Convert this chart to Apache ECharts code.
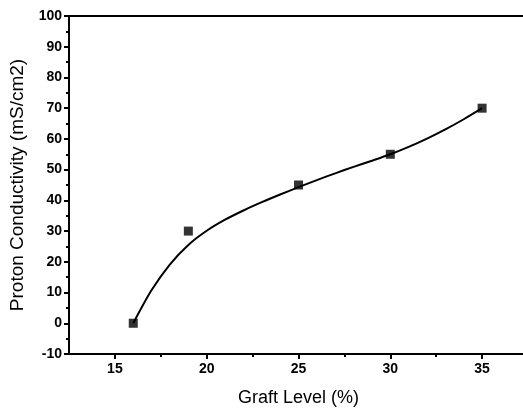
<!DOCTYPE html>
<html>
<head>
<meta charset="utf-8">
<script src="https://cdn.jsdelivr.net/npm/echarts@6/dist/echarts.min.js"></script>
<style>
html,body{margin:0;padding:0;background:#fff;}
#chart{width:523px;height:408px;}
</style>
</head>
<body>
<div id="chart"></div>
<script>
// Measured data points
const graftLevel = [16, 19, 25, 30, 35];
const conductivity = [0, 30, 45, 55, 70];
// Fitted curve
const curveX = [16, 17, 18, 19, 20, 21, 22, 23, 24, 25, 26, 27, 28, 29, 30, 31, 32, 33, 34, 35];
const curveY = [0, 10.8, 19.2, 25.5, 30.1, 33.7, 36.7, 39.4, 41.9, 44.3, 46.6, 48.8, 50.9, 52.9, 55.0, 57.4, 60.1, 63.1, 66.4, 70.0];
// Tick values
const xMajorTicks = [15, 20, 25, 30, 35];
const xMinorTicks = [17.5, 22.5, 27.5, 32.5];

const chart = echarts.init(document.getElementById('chart'), null, {renderer: 'canvas'});
const font = 'Arial, "Liberation Sans", sans-serif';
const lineStyle = {color: '#000', width: 2};
chart.setOption({
  animation: false,
  backgroundColor: '#fff',
  grid: {left: 69, top: 16, bottom: 54, right: -5, containLabel: false, outerBoundsMode: 'none'},
  xAxis: [
    {
      type: 'value', position: 'bottom', min: 12.5, max: 37.5,
      name: 'Graft Level (%)', nameLocation: 'middle', nameGap: 35,
      nameTextStyle: {fontFamily: font, fontSize: 18, color: '#000'},
      axisLine: {show: true, onZero: false, lineStyle: lineStyle},
      axisTick: {show: true, length: 5, customValues: xMajorTicks, lineStyle: lineStyle},
      axisLabel: {show: true, customValues: xMajorTicks, fontFamily: font, fontSize: 14, fontWeight: 'bold', color: '#000', margin: 8},
      splitLine: {show: false}
    },
    {
      type: 'value', position: 'bottom', min: 12.5, max: 37.5,
      axisLine: {show: false, onZero: false},
      axisTick: {show: true, length: 3, customValues: xMinorTicks, lineStyle: lineStyle},
      axisLabel: {show: false},
      splitLine: {show: false}
    },
    {
      type: 'value', position: 'top', min: 12.5, max: 37.5,
      axisLine: {show: true, onZero: false, lineStyle: lineStyle},
      axisTick: {show: false},
      axisLabel: {show: false},
      splitLine: {show: false}
    }
  ],
  yAxis: {
    type: 'value', min: -10, max: 100, interval: 10,
    name: 'Proton Conductivity (mS/cm2)', nameLocation: 'middle', nameGap: 41,
    nameTextStyle: {fontFamily: font, fontSize: 19, color: '#000'},
    axisLine: {show: true, onZero: false, lineStyle: lineStyle},
    axisTick: {show: true, length: 5, lineStyle: lineStyle},
    minorTick: {show: true, splitNumber: 2, length: 3, lineStyle: {color: '#000', width: 2}},
    axisLabel: {fontFamily: font, fontSize: 14, fontWeight: 'bold', color: '#000', margin: 7},
    splitLine: {show: false}
  },
  series: [
    {
      type: 'line', xAxisIndex: 0, smooth: 0.3, showSymbol: false, symbol: 'none',
      data: curveX.map((x, i) => [x, curveY[i]]),
      lineStyle: {color: '#000', width: 2}, z: 2
    },
    {
      type: 'scatter', xAxisIndex: 0, symbol: 'rect', symbolSize: 9,
      data: graftLevel.map((x, i) => [x, conductivity[i]]),
      itemStyle: {color: '#000'}, z: 3
    }
  ]
});
</script>
</body>
</html>
